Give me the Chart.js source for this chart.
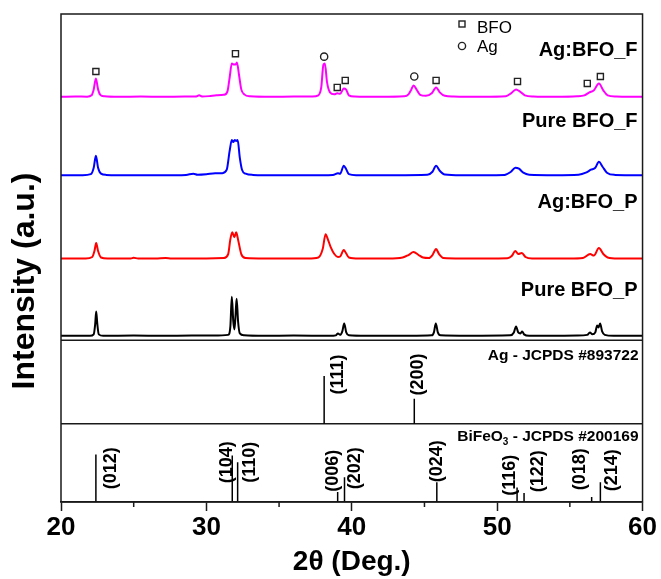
<!DOCTYPE html>
<html lang="en">
<head>
<meta charset="UTF-8" />
<title>XRD - Ag:BFO</title>
<script src="https://cdnjs.cloudflare.com/ajax/libs/Chart.js/4.4.1/chart.umd.min.js"></script>
<style>
  html, body { margin:0; padding:0; background:#ffffff; }
  #box { width:661px; height:579px; }
</style>
</head>
<body>
<div id="box"><canvas id="xrd"></canvas></div>
<script>
// measured patterns: [2theta, intensity above the trace's own baseline]
const agBfoF = [
  [20.0,0.5],[21.0,0.8],[21.8,0.6],[22.1,2],[22.25,8],[22.4,19],[22.55,8],[22.7,2.5],[23.0,1],[24.0,0.5],
  [25.5,0.8],[27.0,0.5],[28.5,0.8],[29.3,0.8],[29.5,2],[29.7,0.8],[30.2,1.2],[30.7,2],[31.2,2.5],[31.45,6],
  [31.6,20],[31.75,34],[31.9,33],[32.0,33],[32.1,35],[32.25,22],[32.4,8],[32.6,3],[33.0,1],[34.5,0.5],
  [36.0,0.8],[37.3,0.8],[37.7,2],[37.9,10],[38.05,33],[38.15,34],[38.3,15],[38.5,5],[38.8,3],[39.0,4],
  [39.2,3.5],[39.45,9],[39.6,8],[39.8,2],[40.2,0.8],[42.0,0.5],[43.6,1],[43.9,3],[44.1,8],[44.25,12],
  [44.45,8],[44.7,2.5],[45.1,1.5],[45.5,4],[45.8,10],[46.05,5],[46.4,1.5],[47.0,0.8],[49.0,0.5],[50.6,1],
  [50.95,4],[51.3,8],[51.55,6],[51.9,2],[52.5,0.8],[54.0,0.5],[55.5,1],[56.0,2],[56.35,5],[56.65,7],
  [57.0,14],[57.3,7],[57.6,2],[58.2,0.8],[59.0,0.5],[60.0,0.5]
];
const pureBfoF = [
  [20.0,0.5],[21.5,0.5],[22.05,1.5],[22.25,8],[22.4,20],[22.55,8],[22.75,2],[23.1,0.8],[25.0,0.5],[27.0,0.5],
  [28.6,0.8],[29.1,2],[29.4,1],[30.0,1.5],[30.6,2.5],[31.1,2.5],[31.4,6],[31.6,25],[31.75,36],[31.85,34],
  [31.95,36],[32.05,35],[32.15,36],[32.3,18],[32.45,6],[32.7,2],[33.2,0.8],[35.0,0.5],[37.0,0.5],[38.7,0.8],
  [39.05,2.5],[39.2,2],[39.45,10],[39.6,7],[39.8,1.5],[40.3,0.5],[43.0,0.5],[45.2,1],[45.55,4],[45.8,10],
  [46.05,5],[46.4,1.2],[47.5,0.5],[50.5,0.8],[50.95,4],[51.25,8],[51.5,7],[51.8,3],[52.2,1],[54.0,0.5],
  [55.6,1],[56.1,3],[56.45,6],[56.75,8],[57.0,14],[57.25,9],[57.55,3],[58.1,0.8],[60.0,0.5]
];
const agBfoP = [
  [20.0,0.5],[21.7,0.5],[22.15,2],[22.3,8],[22.42,16],[22.55,8],[22.75,1.5],[23.2,0.5],[24.8,0.5],[25.0,1.2],
  [25.3,0.5],[26.5,0.5],[27.2,1],[27.6,0.5],[30.0,0.5],[31.2,1],[31.5,5],[31.65,20],[31.78,27],[31.92,22],
  [32.05,27],[32.2,18],[32.4,5],[32.7,1],[34.0,0.5],[37.0,0.5],[37.7,1.5],[38.0,10],[38.2,25],[38.35,20],
  [38.55,12],[38.8,5],[39.05,2],[39.2,2.5],[39.45,9],[39.6,6],[39.8,1.5],[40.5,0.5],[42.5,0.5],[43.5,1.5],
  [43.9,4],[44.25,7],[44.6,4],[44.9,1.5],[45.3,1],[45.55,4],[45.8,10],[46.0,5],[46.3,1],[47.5,0.5],
  [50.7,0.8],[51.0,3],[51.25,8],[51.45,5],[51.7,6],[51.95,2],[52.4,0.5],[55.0,0.5],[55.9,1],[56.4,5],
  [56.65,3.5],[57.0,11],[57.3,5],[57.6,1.5],[58.3,0.5],[60.0,0.5]
];
const pureBfoP = [
  [20.0,0.5],[22.0,0.5],[22.25,2],[22.35,12],[22.42,25],[22.5,12],[22.6,2],[22.9,0.5],[25.0,0.8],[27.0,0.5],
  [29.0,0.8],[30.5,0.8],[31.5,1.5],[31.65,10],[31.75,40],[31.85,15],[31.93,7],[32.0,20],[32.08,38],[32.18,15],
  [32.3,3],[32.6,1],[34.0,0.5],[36.0,0.8],[38.5,0.5],[38.9,1],[39.05,3],[39.2,1.5],[39.35,5],[39.48,13],
  [39.62,4],[39.8,1],[41.0,0.5],[44.0,0.5],[45.5,1],[45.65,4],[45.78,13],[45.92,4],[46.1,1],[48.0,0.5],
  [50.9,1],[51.15,4],[51.3,10],[51.45,4],[51.6,3],[51.72,5],[51.85,2],[52.2,0.5],[55.5,0.8],[56.2,1.5],
  [56.38,4],[56.55,2],[56.75,4],[56.88,11],[56.97,9],[57.08,13],[57.22,5],[57.4,1.5],[58.0,0.5],[60.0,0.5]
];

// reference cards
const agRef2Theta = [38.1, 44.3];
const agRefInt = [48, 25];
const agRefHkl = ['(111)', '(200)'];
const bfoRef2Theta = [22.4, 31.78, 32.15, 39.03, 39.5, 45.85, 51.37, 51.85, 56.5, 57.1];
const bfoRefInt = [48, 47, 40, 10, 25, 20, 14.5, 9, 5, 20];
const bfoRefHkl = ['(012)', '(104)', '(110)', '(006)', '(202)', '(024)', '(116)', '(122)', '(018)', '(214)'];

// phase markers over the Ag:BFO_F pattern
const bfoMark2Theta = [22.4, 32.0, 39.0, 39.55, 45.8, 51.4, 56.2, 57.1];
const bfoMarkInt = [26, 44, 10, 17, 17, 16, 14, 21];
const agMark2Theta = [38.1, 44.3];
const agMarkInt = [41, 21];

const xTicks = [20, 30, 40, 50, 60];
const xMinor = [25, 35, 45, 55];

// stacking (y units)
const baseline = { agBfoF: 408, pureBfoF: 329, agBfoP: 245, pureBfoP: 167 };
const agPanelTop = 163, bfoPanelTop = 79, yTop = 492;
const sampleLabels = [
  ['Ag:BFO_F', 450], ['Pure BFO_F', 378], ['Ag:BFO_P', 296], ['Pure BFO_P', 208]
];
// hkl label anchors [2theta, y]
const agHklAt = [[38.97, 128.5], [44.48, 128.5]];
const bfoHklAt = [[23.38, 34], [31.38, 40], [32.96, 40], [38.67, 31.5], [40.17, 34],
                  [45.78, 41], [50.84, 27], [52.75, 31], [55.62, 33], [57.85, 32]];

const FONT = "'Liberation Sans', Arial, Helvetica, sans-serif";

function trace(pts, base) {
  return pts.map(p => ({ x: p[0], y: base + p[1] }));
}
function sticks(pos, h, base) {
  const d = [];
  pos.forEach((p, i) => { d.push({ x: p, y: base }, { x: p, y: base + h[i] }, { x: p, y: null }); });
  return d;
}
function marks(pos, h, base) {
  return pos.map((p, i) => ({ x: p, y: base + h[i] }));
}

function lineSet(data, color, w) {
  return { data: data, borderColor: color, borderWidth: w, pointRadius: 0,
           cubicInterpolationMode: 'monotone', fill: false, spanGaps: false };
}

const datasets = [
  lineSet(trace(agBfoF, baseline.agBfoF), '#ff00ff', 2),
  lineSet(trace(pureBfoF, baseline.pureBfoF), '#0000ff', 2),
  lineSet(trace(agBfoP, baseline.agBfoP), '#ff0000', 2),
  lineSet(trace(pureBfoP, baseline.pureBfoP), '#000000', 2),
  Object.assign(lineSet(sticks(agRef2Theta, agRefInt, bfoPanelTop), '#000', 1.5), { cubicInterpolationMode: 'default', tension: 0 }),
  Object.assign(lineSet(sticks(bfoRef2Theta, bfoRefInt, 0), '#000', 1.5), { cubicInterpolationMode: 'default', tension: 0 }),
  lineSet([{ x: 20, y: agPanelTop }, { x: 60, y: agPanelTop }], '#1a1a1a', 1.5),
  lineSet([{ x: 20, y: bfoPanelTop }, { x: 60, y: bfoPanelTop }], '#1a1a1a', 1.5),
  { data: marks(bfoMark2Theta, bfoMarkInt, baseline.agBfoF), showLine: false, pointStyle: 'rect',
    pointRadius: 4.3, pointBorderWidth: 1.4, pointBorderColor: '#222', pointBackgroundColor: '#fff' },
  { data: marks(agMark2Theta, agMarkInt, baseline.agBfoF), showLine: false, pointStyle: 'circle',
    pointRadius: 3.6, pointBorderWidth: 1.4, pointBorderColor: '#222', pointBackgroundColor: '#fff' }
];

const xrdText = {
  id: 'xrdText',
  afterDatasetsDraw(chart) {
    const { ctx, chartArea: a, scales: { x, y } } = chart;
    ctx.save();
    ctx.strokeStyle = '#1a1a1a';
    ctx.lineWidth = 1.5;
    ctx.strokeRect(a.left, a.top, a.right - a.left, a.bottom - a.top);
    xMinor.forEach(t => {
      const px = x.getPixelForValue(t);
      ctx.beginPath(); ctx.moveTo(px, a.bottom); ctx.lineTo(px, a.bottom + 5); ctx.stroke();
    });

    ctx.fillStyle = '#000';
    // sample names
    ctx.font = 'bold 20px ' + FONT;
    ctx.textAlign = 'right';
    ctx.textBaseline = 'alphabetic';
    sampleLabels.forEach(([t, v]) => ctx.fillText(t, a.right - 5, y.getPixelForValue(v)));

    // card titles
    ctx.font = 'bold 15.5px ' + FONT;
    ctx.fillText('Ag - JCPDS #893722', a.right - 4, y.getPixelForValue(143));
    const tail = ' - JCPDS #200169';
    const rx = a.right - 4, by = y.getPixelForValue(62);
    const wTail = ctx.measureText(tail).width;
    ctx.fillText(tail, rx, by);
    ctx.font = 'bold 10px ' + FONT;
    const wSub = ctx.measureText('3').width;
    ctx.fillText('3', rx - wTail, by + 4);
    ctx.font = 'bold 15.5px ' + FONT;
    ctx.fillText('BiFeO', rx - wTail - wSub, by);

    // hkl labels, rotated
    ctx.font = 'bold 18px ' + FONT;
    ctx.textAlign = 'center';
    ctx.textBaseline = 'middle';
    const hkl = (txt, at) => {
      ctx.save();
      ctx.translate(x.getPixelForValue(at[0]), y.getPixelForValue(at[1]));
      ctx.rotate(-Math.PI / 2);
      ctx.fillText(txt, 0, 1);
      ctx.restore();
    };
    agRefHkl.forEach((t, i) => hkl(t, agHklAt[i]));
    bfoRefHkl.forEach((t, i) => hkl(t, bfoHklAt[i]));

    // phase key
    ctx.lineWidth = 1.4;
    ctx.strokeStyle = '#222';
    ctx.strokeRect(459, 21, 6, 6);
    ctx.beginPath(); ctx.arc(462, 46, 3.6, 0, Math.PI * 2); ctx.stroke();
    ctx.font = '17px ' + FONT;
    ctx.textAlign = 'left';
    ctx.textBaseline = 'alphabetic';
    ctx.fillText('BFO', 477, 33);
    ctx.fillText('Ag', 477, 52);

    // y title
    ctx.save();
    ctx.translate(25, 281);
    ctx.rotate(-Math.PI / 2);
    ctx.font = 'bold 32px ' + FONT;
    ctx.textAlign = 'center';
    ctx.textBaseline = 'middle';
    ctx.fillText('Intensity (a.u.)', 0, 0);
    ctx.restore();
    ctx.restore();
  }
};

new Chart(document.getElementById('xrd'), {
  type: 'line',
  data: { datasets: datasets },
  options: {
    responsive: true,
    maintainAspectRatio: false,
    animation: false,
    devicePixelRatio: 1,
    layout: { padding: { left: 61, right: 15, top: 14, bottom: 3 } },
    plugins: { legend: { display: false }, tooltip: { enabled: false } },
    scales: {
      x: {
        type: 'linear', min: 20, max: 60,
        afterBuildTicks: s => { s.ticks = xTicks.map(v => ({ value: v })); },
        ticks: { color: '#000', padding: 4, maxRotation: 0,
                 font: { family: FONT, size: 26, weight: 'bold', lineHeight: 1 } },
        grid: { display: true, drawOnChartArea: false, drawTicks: true, tickLength: 9,
                tickWidth: 1.5, tickColor: '#1a1a1a' },
        border: { display: true, color: '#1a1a1a', width: 1.5 },
        title: { display: true, text: '2θ (Deg.)', color: '#000',
                 font: { family: FONT, size: 28, weight: 'bold', lineHeight: 1 },
                 padding: { top: 3, bottom: 0 } }
      },
      y: { display: false, min: 0, max: yTop }
    }
  },
  plugins: [xrdText]
});
</script>
</body>
</html>
